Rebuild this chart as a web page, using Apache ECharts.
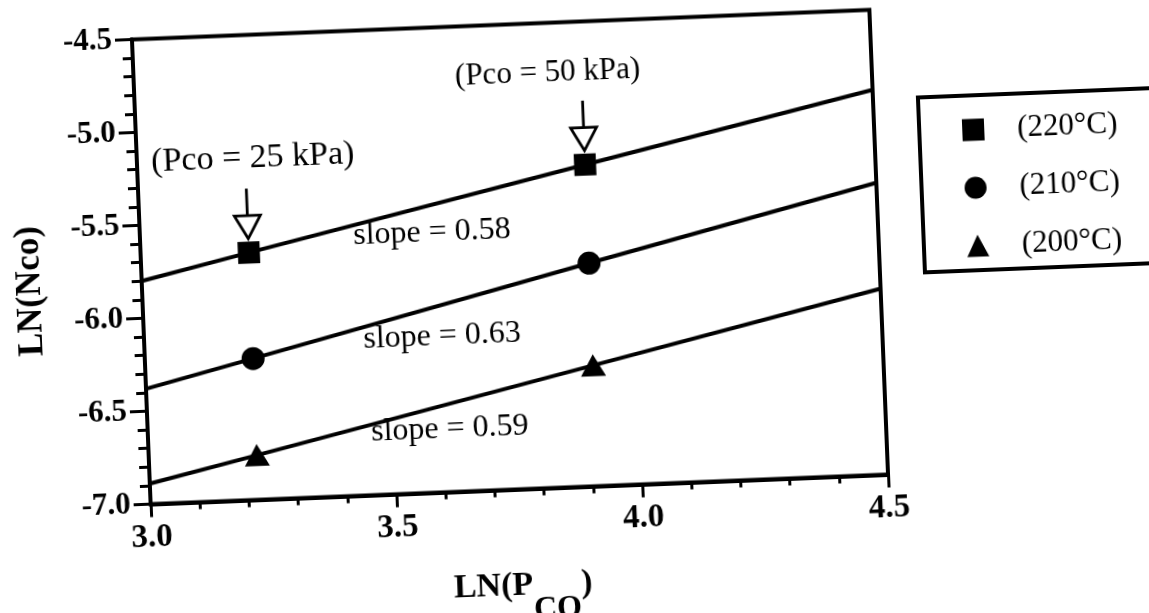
<!DOCTYPE html>
<html>
<head>
<meta charset="utf-8">
<script src="https://cdn.jsdelivr.net/npm/echarts@6/dist/echarts.min.js"></script>
<style>
  html, body { margin: 0; padding: 0; background: #fff; overflow: hidden; }
  /* the scanned figure is tilted a little, so the whole chart is turned */
  #chart {
    position: absolute; left: 0; top: 0;
    width: 1249px; height: 663px;
    transform: rotate(-2.3deg);
    transform-origin: 510px 257px;
  }
</style>
</head>
<body>
<div id="chart"></div>
<script>
// ln(P) where the fitted lines are drawn, and the two measured pressures
const lineX = [3.0, 3.22, 3.91, 4.5];
const line220 = [-5.80, -5.67, -5.27, -4.93];
const line210 = [-6.38, -6.24, -5.80, -5.43];
const line200 = [-6.89, -6.76, -6.35, -6.00];

const pointX = [3.22, 3.91];
const points220 = [-5.67, -5.27];
const points210 = [-6.24, -5.80];
const points200 = [-6.76, -6.35];

const seriesNames = ["(220°C)", "(210°C)", "(200°C)"];
const slopeLabels = ["slope = 0.58", "slope = 0.63", "slope = 0.59"];
const pressureLabels = ["(Pco = 25 kPa)", "(Pco = 50 kPa)"];

const FONT = "'Liberation Serif', 'Times New Roman', serif";
const BLACK = "#000";

const chart = echarts.init(document.getElementById("chart"));

function lineSeries(values) {
  return {
    type: "line",
    data: lineX.map((x, i) => [x, values[i]]),
    symbol: "none",
    silent: true,
    lineStyle: { color: BLACK, width: 4 },
    z: 2,
  };
}

function markerSeries(name, values, symbol, size) {
  return {
    type: "scatter",
    name: name,
    data: pointX.map((x, i) => [x, values[i]]),
    symbol: symbol,
    symbolSize: size,
    itemStyle: { color: BLACK, opacity: 1 },
    emphasis: { disabled: true },
    z: 3,
  };
}

chart.setOption({
  animation: false,
  backgroundColor: "#fff",
  grid: {
    left: 141,
    top: 24.5,
    width: 738,
    height: 465,
    show: true,
    borderColor: BLACK,
    borderWidth: 4,
  },
  xAxis: {
    type: "value",
    min: 3.0,
    max: 4.5,
    interval: 0.5,
    axisLine: { onZero: false, lineStyle: { color: BLACK, width: 4 } },
    axisTick: { inside: false, length: 13, lineStyle: { color: BLACK, width: 3 } },
    minorTick: { show: true, splitNumber: 5, length: 7, lineStyle: { color: BLACK, width: 3 } },
    splitLine: { show: false },
    axisLabel: {
      margin: 17,
      color: BLACK,
      fontFamily: FONT,
      fontSize: 33,
      fontWeight: "bold",
      formatter: (v) => v.toFixed(1),
    },
  },
  yAxis: {
    type: "value",
    min: -7.0,
    max: -4.5,
    interval: 0.5,
    axisLine: { onZero: false, lineStyle: { color: BLACK, width: 4 } },
    axisTick: { inside: false, length: 17, lineStyle: { color: BLACK, width: 3 } },
    minorTick: { show: true, splitNumber: 5, length: 10, lineStyle: { color: BLACK, width: 3 } },
    splitLine: { show: false },
    axisLabel: {
      margin: 20,
      color: BLACK,
      fontFamily: FONT,
      fontSize: 31,
      fontWeight: "bold",
      formatter: (v) => v.toFixed(1),
    },
  },
  legend: {
    data: [
      { name: seriesNames[0], icon: "rect" },
      { name: seriesNames[1], icon: "circle" },
      { name: seriesNames[2], icon: "triangle" },
    ],
    orient: "vertical",
    left: 962,
    top: 128,
    itemWidth: 22,
    itemHeight: 22,
    itemGap: 27,
    selectedMode: false,
    textStyle: { color: BLACK, fontFamily: FONT, fontSize: 31, padding: [0, 0, 0, 28] },
  },
  series: [
    lineSeries(line220),
    lineSeries(line210),
    lineSeries(line200),
    markerSeries(seriesNames[0], points220, "rect", 22),
    markerSeries(seriesNames[1], points210, "circle", 23),
    markerSeries(seriesNames[2], points200, "triangle", [25, 22]),
  ],
});

// open arrow pointing down at a marker
function arrow(px, py) {
  const tip = py - 14;
  return [
    {
      type: "line",
      shape: { x1: px, y1: tip - 50, x2: px, y2: tip - 23 },
      style: { stroke: BLACK, lineWidth: 2.8 },
      z: 10,
    },
    {
      type: "polygon",
      shape: { points: [[px - 13, tip - 23], [px + 13, tip - 23], [px, tip]] },
      style: { fill: "#fff", stroke: BLACK, lineWidth: 2.8 },
      z: 10,
    },
  ];
}

function label(text, x, y, size, weight, extra) {
  return Object.assign({
    type: "text",
    x: x,
    y: y,
    z: 10,
    style: {
      text: text,
      fill: BLACK,
      fontFamily: FONT,
      fontSize: size,
      fontWeight: weight || "normal",
      align: "center",
      verticalAlign: "middle",
    },
  }, extra || {});
}

const p25 = chart.convertToPixel({ gridIndex: 0 }, [pointX[0], points220[0]]);
const p50 = chart.convertToPixel({ gridIndex: 0 }, [pointX[1], points220[1]]);

chart.setOption({
  graphic: [
    // legend frame, runs off the right edge like the scan
    {
      type: "rect",
      shape: { x: 924, y: 114, width: 400, height: 175 },
      style: { fill: "none", stroke: BLACK, lineWidth: 4 },
      z: 1,
    },
    ...arrow(p25[0], p25[1]),
    ...arrow(p50[0], p50[1]),
    label(pressureLabels[0], 257, 148, 34),
    label(pressureLabels[1], 555, 75, 31),
    label(slopeLabels[0], 433, 230, 32),
    label(slopeLabels[1], 439, 334, 32),
    label(slopeLabels[2], 443, 427, 32),
    // axis titles
    label("LN(Nco)", 30, 272, 35, "bold", { rotation: Math.PI / 2 }),
    {
      type: "text",
      x: 510,
      y: 598,
      z: 10,
      style: {
        text: "{a|LN(P}{b|CO}{a|)}",
        align: "center",
        verticalAlign: "middle",
        rich: {
          a: { fontFamily: FONT, fontSize: 34, fontWeight: "bold", fill: BLACK, lineHeight: 34, verticalAlign: "top" },
          b: { fontFamily: FONT, fontSize: 32, fontWeight: "bold", fill: BLACK, lineHeight: 58, verticalAlign: "bottom" },
        },
      },
    },
  ],
});
</script>
</body>
</html>
